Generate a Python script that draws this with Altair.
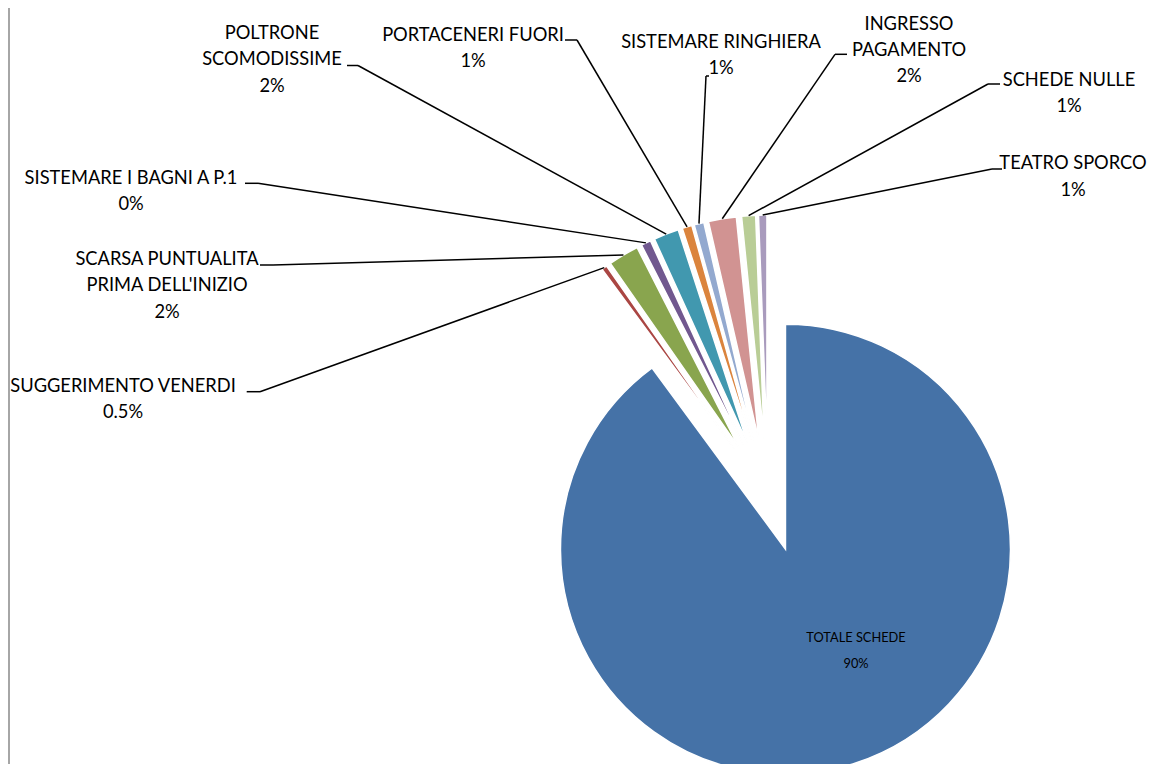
import math
import altair as alt
import pandas as pd

# ---------------- data ----------------
categories = [
    "TOTALE SCHEDE",
    "SUGGERIMENTO VENERDI",
    "SCARSA PUNTUALITA\nPRIMA DELL'INIZIO",
    "SISTEMARE I BAGNI A P.1",
    "POLTRONE\nSCOMODISSIME",
    "PORTACENERI FUORI",
    "SISTEMARE RINGHIERA",
    "INGRESSO\nPAGAMENTO",
    "SCHEDE NULLE",
    "TEATRO SPORCO",
]
values = [89.9, 0.4, 2.2, 0.7, 1.8, 0.7, 0.7, 2.0, 1.0, 0.6]
pct_labels = ["90%", "0.5%", "2%", "0%", "2%", "1%", "1%", "2%", "1%", "1%"]

# ---------------- style / layout ----------------
colors = ["#4572A7", "#AA4643", "#89A54E", "#71588F", "#4198AF",
          "#DB843D", "#93A9CF", "#D19392", "#B9CD96", "#A99BBD"]
label_x = [848, 115, 159, 123, 264, 465, 713, 901, 1061, 1065]
label_y = [634, 384, 257, 176, 31, 33, 40, 21.5, 77.7, 161.3]
label_size = [12.8, 18.3, 18.3, 18.3, 18.3, 18.3, 18.3, 18.3, 18.3, 18.3]
elbow_x = [None, 252, 265, 250, 350, 569, 698, 827, 980, 984]
elbow_y = [None, 383.7, 257, 175.3, 57.5, 32, 68, 46.3, 76, 161]
end_x = [None, 238.7, 252, 237, 339, 557, 701, 839, 992, 994]

CX, CY, R, EXPLODE = 760, 488, 225, 56
W, H = 1139, 756
FONT = "Lato"

df = pd.DataFrame({
    "order": list(range(len(categories))),
    "cat": categories,
    "value": values,
    "pct": pct_labels,
    "lx": label_x,
    "ly": label_y,
    "fs": label_size,
    "ex": elbow_x,
    "ey": elbow_y,
    "endx": end_x,
})
total = sum(values)

base = (
    alt.Chart(df)
    .transform_joinaggregate(total="sum(value)")
    .transform_window(cum="sum(value)", sort=[alt.SortField("order")], frame=[None, 0])
    .transform_calculate(
        start="datum.cum - datum.value",
        mid="(datum.cum - datum.value/2) / datum.total * 2 * PI",
    )
    .transform_calculate(
        px=f"{CX} + {EXPLODE} * sin(datum.mid)",
        py=f"{CY} - {EXPLODE} * cos(datum.mid)",
        sx=f"{CX} + {EXPLODE + R} * sin(datum.mid)",
        sy=f"{CY} - {EXPLODE + R} * cos(datum.mid)",
        txt="datum.cat + '\\n' + datum.pct",
    )
)

arcs = base.mark_arc(radius=R, stroke="white", strokeWidth=1.5).encode(
    theta=alt.Theta("start:Q", scale=alt.Scale(domain=[0, total], range=[0, 2 * math.pi])),
    theta2="cum:Q",
    x=alt.X("px:Q", scale=None),
    y=alt.Y("py:Q", scale=None),
    color=alt.Color("cat:N", scale=alt.Scale(domain=categories, range=colors), legend=None),
)

lead_diag = base.transform_filter("isValid(datum.ex)").mark_rule(
    color="black", strokeWidth=1.5
).encode(
    x=alt.X("sx:Q", scale=None),
    y=alt.Y("sy:Q", scale=None),
    x2="ex:Q",
    y2="ey:Q",
)

lead_h = base.transform_filter("isValid(datum.ex)").mark_rule(
    color="black", strokeWidth=1.5
).encode(
    x=alt.X("ex:Q", scale=None),
    y=alt.Y("ey:Q", scale=None),
    x2="endx:Q",
    y2="ey:Q",
)

labels = base.mark_text(
    lineBreak="\n", align="center", baseline="alphabetic",
    font=FONT, color="black", lineHeight=26.3,
).encode(
    x=alt.X("lx:Q", scale=None),
    y=alt.Y("ly:Q", scale=None),
    size=alt.Size("fs:Q", scale=None),
    text="txt:N",
)

border = alt.Chart(pd.DataFrame({"v": [0]})).mark_rule(color="#A6A6A6", strokeWidth=2).encode(
    x=alt.value(1), y=alt.value(0), y2=alt.value(H)
)

chart = (
    alt.layer(arcs, lead_diag, lead_h, labels, border)
    .properties(width=W, height=H, padding=0, autosize="none", background="white")
    .configure_view(stroke=None)
)

chart.save("out.html", embed_options={"renderer": "svg", "actions": False})
